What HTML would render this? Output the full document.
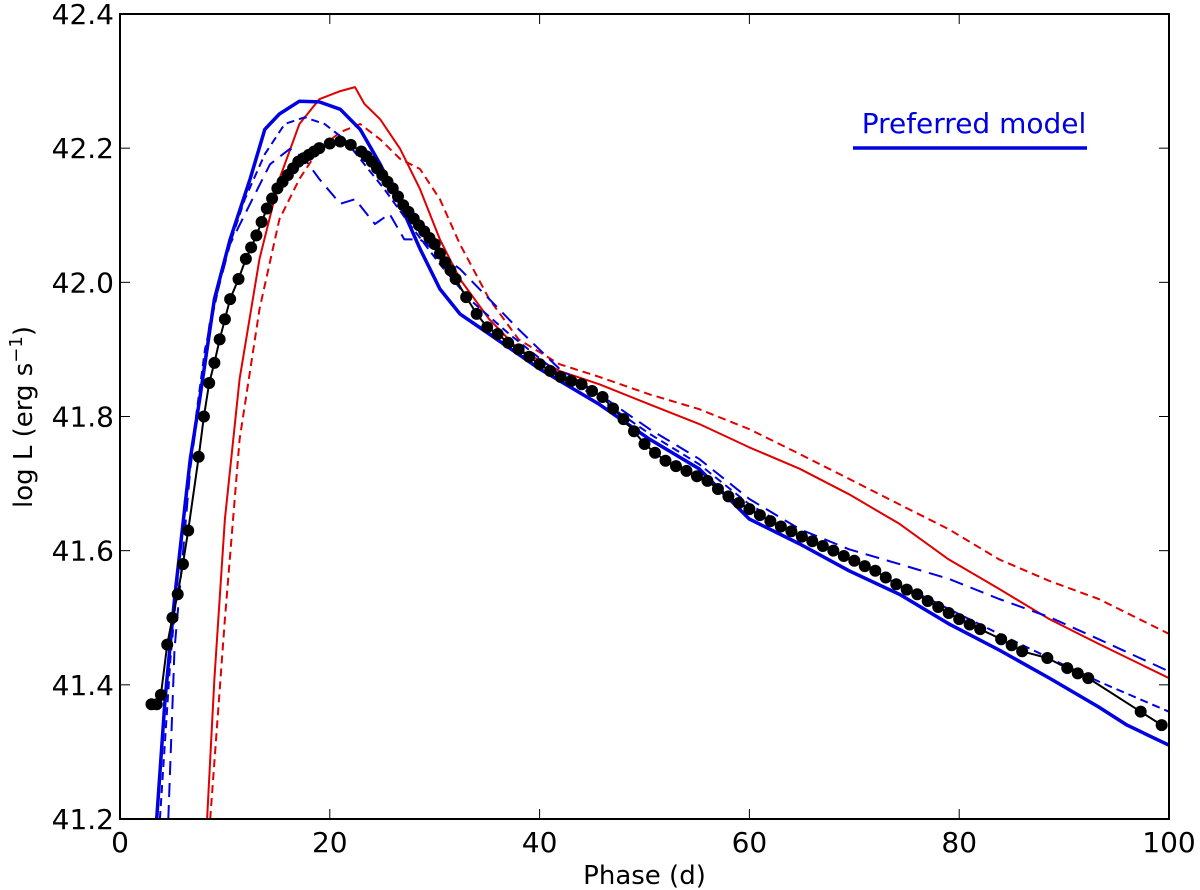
<!DOCTYPE html>
<html><head><meta charset="utf-8"><style>
html,body{margin:0;padding:0;background:#fff;}
svg{display:block;font-family:"DejaVu Sans","Liberation Sans",sans-serif;}
</style></head><body>
<svg id="chart" width="1200" height="890" viewBox="0 0 1200 890" xmlns="http://www.w3.org/2000/svg">
<g id="series"></g>
<g id="axes"></g>
</svg>
<script>
const xTicks=[0,20,40,60,80,100];
const yTicks=[41.2,41.4,41.6,41.8,42.0,42.2,42.4];
const yTickLabels=["41.2","41.4","41.6","41.8","42.0","42.2","42.4"];
const obsPhase=[3,3.5,3.9,4.5,5,5.5,6,6.5,7.5,8,8.5,9,9.5,10,10.5,11.3,12,12.5,13,13.5,14,14.5,15,15.5,16,16.5,17,17.5,18,18.5,19,20,21,22,23,23.5,24,24.5,25,25.5,26,26.5,27,27.5,28,28.5,29,29.5,30,30.5,31,31.5,32,33,34,35,36,37,38,39,40,41,42,43,44,45,46,47,48,49,50,51,52,53,54,55,56,57,58,59,60,61,62,63,64,65,66,67,68,69,70,71,72,73,74,75,76,77,78,79,80,81,82,84,85,86,88.4,90.3,91.3,92.3,97.3,99.3];
const obsL=[41.371,41.371,41.385,41.46,41.50,41.535,41.58,41.63,41.74,41.80,41.85,41.88,41.915,41.945,41.975,42.005,42.035,42.052,42.07,42.09,42.11,42.125,42.14,42.15,42.16,42.17,42.18,42.185,42.19,42.195,42.20,42.207,42.21,42.205,42.195,42.188,42.18,42.17,42.16,42.15,42.14,42.128,42.115,42.105,42.095,42.085,42.076,42.066,42.057,42.043,42.03,42.018,42.005,41.978,41.953,41.933,41.923,41.91,41.90,41.889,41.878,41.868,41.859,41.853,41.848,41.838,41.829,41.812,41.796,41.778,41.759,41.746,41.734,41.726,41.719,41.711,41.704,41.692,41.681,41.671,41.662,41.653,41.644,41.636,41.629,41.621,41.614,41.607,41.60,41.592,41.585,41.577,41.57,41.56,41.55,41.542,41.535,41.525,41.516,41.507,41.498,41.49,41.483,41.468,41.459,41.45,41.44,41.425,41.417,41.41,41.36,41.34];
const prefPhase=[3.5,4.3,5.2,6.7,7.6,9,10.5,12.4,13.8,15.2,17.1,19,21,22.9,24.8,26.7,28.6,30.5,32.4,35.2,40,45.7,50.5,55.2,60,64.8,69.5,74.3,79,83.8,88.6,93.3,96,100];
const prefL=[41.2,41.379,41.528,41.737,41.826,41.975,42.064,42.154,42.228,42.251,42.27,42.269,42.258,42.228,42.176,42.117,42.05,41.99,41.953,41.923,41.871,41.818,41.766,41.722,41.647,41.61,41.57,41.535,41.491,41.452,41.41,41.367,41.34,41.31];
const redPhase=[8.3,9,10,11.4,13.3,15.2,17.1,19,21,22.4,23.3,24.8,26.7,28.6,30.5,32.4,35.2,38,41.9,45.7,50.5,55.2,60,64.8,69.5,74.3,79,83.8,88.6,93.3,100];
const redL=[41.2,41.409,41.647,41.856,42.035,42.154,42.236,42.273,42.285,42.291,42.266,42.243,42.199,42.139,42.064,42.005,41.945,41.9,41.868,41.848,41.818,41.789,41.754,41.722,41.684,41.64,41.587,41.543,41.498,41.461,41.41];
const redDashPhase=[8.6,10,11.4,13.3,15.2,17.1,19,21,22.9,24.8,26.7,28.6,30.5,32.4,35.2,38,41.9,45.7,50.5,55.2,60,64.8,69.5,74.3,79,83.8,88.6,93.3,100];
const redDashL=[41.2,41.498,41.766,41.96,42.094,42.154,42.199,42.224,42.236,42.213,42.184,42.169,42.124,42.057,41.975,41.915,41.878,41.859,41.833,41.811,41.781,41.744,41.707,41.669,41.632,41.587,41.555,41.528,41.476];
const blueLongPhase=[4.6,5.2,6.7,8.6,10.5,12.4,14.3,16.2,17.6,19,21,22.4,24.3,25.7,27.1,28.6,30.5,32.4,35.2,38,41.9,45.7,50.5,55.2,60,64.8,69.5,74.3,79,83.8,88.6,93.3,100];
const blueLongL=[41.2,41.453,41.722,41.945,42.057,42.117,42.176,42.199,42.184,42.154,42.117,42.124,42.087,42.102,42.064,42.064,42.042,42.02,41.975,41.93,41.871,41.833,41.781,41.737,41.677,41.632,41.602,41.58,41.558,41.528,41.501,41.468,41.42];
const blueShortPhase=[3.8,4.8,6.2,8.1,10,11.9,13.8,15.7,17.6,19.5,21.4,23.3,25.2,27.6,30.5,33.3,37.1,41.9,45.7,50.5,55.2,60,64.8,69.5,74.3,79,83.8,88.6,93.3,100];
const blueShortL=[41.2,41.438,41.677,41.9,42.035,42.124,42.191,42.236,42.246,42.236,42.213,42.176,42.139,42.087,42.027,41.975,41.923,41.863,41.826,41.774,41.729,41.669,41.625,41.587,41.55,41.513,41.476,41.44,41.405,41.36];

const X0=120,X1=1169,Y0=819,Y1=14;
const xs=v=>X0+(v-0)/100*(X1-X0);
const ys=v=>Y0-(v-41.2)/1.2*(Y0-Y1);
const NS="http://www.w3.org/2000/svg";
const ser=document.getElementById('series');
const axg=document.getElementById('axes');
function mk(tag,attrs,parent){const e=document.createElementNS(NS,tag);for(const k in attrs)e.setAttribute(k,attrs[k]);parent.appendChild(e);return e;}
const defs=mk('defs',{},ser);
const cp=mk('clipPath',{id:'clip'},defs);
mk('rect',{x:X0,y:Y1,width:X1-X0,height:Y0-Y1},cp);
const plot=mk('g',{'clip-path':'url(#clip)'},ser);
function line(px,py,color,w,dash,name){
  const d=px.map((p,i)=>(i?'L':'M')+xs(p).toFixed(1)+','+ys(py[i]).toFixed(1)).join('');
  const p=mk('path',{d:d,fill:'none',stroke:color,'stroke-width':w,'stroke-dasharray':dash||'none','stroke-linejoin':'round'},plot);
  
  
}
line(redPhase,redL,'#e00000',2,null,'red-solid-model');
line(redDashPhase,redDashL,'#e00000',2,'8,5','red-dashed-model');
line(blueLongPhase,blueLongL,'#0000e0',2,'14,8','blue-long-dashed-model');
line(blueShortPhase,blueShortL,'#0000e0',2,'8,5','blue-short-dashed-model');
line(prefPhase,prefL,'#0000e0',3.5,null,'preferred-model-line');
line(obsPhase,obsL,'#000',2,null,'observed-line');
obsPhase.forEach((p,i)=>{
  const c=mk('circle',{cx:xs(p),cy:ys(obsL[i]),r:6,fill:'#000'},plot);
  
  
});
const fr=mk('rect',{x:X0,y:Y1,width:X1-X0,height:Y0-Y1,fill:'none',stroke:'#000','stroke-width':2},axg);


xTicks.forEach(v=>{
  const x=xs(v);
  mk('line',{x1:x,x2:x,y1:Y0,y2:Y0-10,stroke:'#000','stroke-width':1},axg);
  mk('line',{x1:x,x2:x,y1:Y1,y2:Y1+10,stroke:'#000','stroke-width':1},axg);
  const t=mk('text',{x:x,y:Y0+33,'text-anchor':'middle','font-size':28},axg);
  t.textContent=String(v);
  
  
});
yTicks.forEach((v,i)=>{
  const y=ys(v);
  mk('line',{x1:X0,x2:X0+10,y1:y,y2:y,stroke:'#000','stroke-width':1},axg);
  mk('line',{x1:X1,x2:X1-10,y1:y,y2:y,stroke:'#000','stroke-width':1},axg);
  const t=mk('text',{x:X0-6,y:y+10,'text-anchor':'end','font-size':28},axg);
  t.textContent=yTickLabels[i];
  
  
});
const xt=mk('text',{x:(X0+X1)/2,y:884,'text-anchor':'middle','font-size':26},axg);
xt.textContent='Phase (d)';


const yt=mk('text',{x:0,y:0,'text-anchor':'middle','font-size':26,transform:'translate(32,417) rotate(-90)'},axg);
yt.innerHTML='log L (erg s<tspan dy="-10" font-size="18">−1</tspan><tspan dy="10">)</tspan>';


const lg=mk('g',{},axg);


const lt=mk('text',{x:974,y:133,'text-anchor':'middle','font-size':28,fill:'#0000e0'},lg);
lt.textContent='Preferred model';
mk('line',{x1:853,x2:1087,y1:148,y2:148,stroke:'#0000e0','stroke-width':3.5},lg);
</script>
</body></html>
